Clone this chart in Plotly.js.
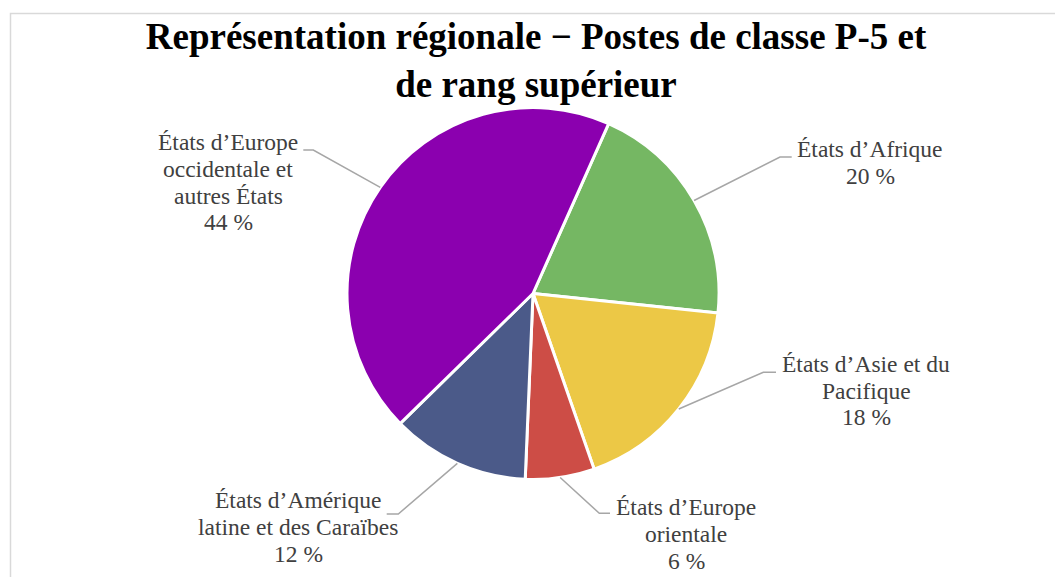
<!DOCTYPE html>
<html>
<head>
<meta charset="utf-8">
<script src="https://cdn.plot.ly/plotly-3.0.1.min.js"></script>
<style>
  html, body { margin: 0; padding: 0; background: #ffffff; }
  #chart { width: 1055px; height: 577px; }
</style>
</head>
<body>
<div id="chart"></div>
<script>
// ---- data ----
const titleText = "Représentation régionale − Postes de classe P-5 et<br>de rang supérieur";
const categories = [
  "États d’Afrique",
  "États d’Asie et du<br>Pacifique",
  "États d’Europe<br>orientale",
  "États d’Amérique<br>latine et des Caraïbes",
  "États d’Europe<br>occidentale et<br>autres États"
];
const values = [20, 18, 6, 12, 44];
const sliceColors = ["#75B763", "#ECC846", "#CD4D46", "#4B5A89", "#8B00AF"];

// ---- layout constants ----
const W = 1055, H = 577;
const cx = 533, cy = 293.5, R = 186;
const rotation = 24;
const fontFamily = "Liberation Serif, Times New Roman, serif";
const labelSize = 23.5, lineGap = 26.8;
const px = x => x / W;
const py = y => 1 - y / H;

// label placement (pixel positions of text and leader elbows)
const labelPlace = [
  { tx: 870, ty: 157,   ex: 780,   ey: 157,   hx: 791.7 },
  { tx: 866, ty: 371.7, ex: 763.3, ey: 372.3, hx: 776 },
  { tx: 686, ty: 515,   ex: 599.3, ey: 513.3, hx: 610 },
  { tx: 298, ty: 508.3, ex: 398.3, ey: 514,   hx: 386.7 },
  { tx: 228, ty: 150,   ex: 313.3, ey: 150,   hx: 303.3 }
];

const total = values.reduce((a, b) => a + b, 0);
const annotations = [];
const shapes = [];
let cum = 0;
values.forEach((v, i) => {
  const mid = (rotation + 360 * (cum + v / 2) / total) * Math.PI / 180;
  cum += v;
  const sx = cx + R * Math.sin(mid), sy = cy - R * Math.cos(mid);
  const p = labelPlace[i];
  shapes.push({
    type: "path", xref: "paper", yref: "paper",
    path: `M ${px(sx)} ${py(sy)} L ${px(p.ex)} ${py(p.ey)} L ${px(p.hx)} ${py(p.ey)}`,
    line: { color: "#A6A6A6", width: 1.5 }
  });
  const pct = Math.round(100 * v / total) + "\u00a0%";
  const lines = (categories[i] + "<br>" + pct).split("<br>");
  lines.forEach((ln, k) => {
    const base = p.ty + k * lineGap;
    annotations.push({
      xref: "paper", yref: "paper",
      x: px(p.tx), y: py(base - 0.3375 * labelSize),
      xanchor: "center", yanchor: "middle",
      text: ln, showarrow: false,
      font: { family: fontFamily, size: labelSize, color: "#404040" }
    });
  });
});

// outer chart border
shapes.push({
  type: "rect", xref: "paper", yref: "paper",
  x0: px(10.5), x1: 1.02, y0: -0.02, y1: py(13.5),
  line: { color: "#D9D9D9", width: 1.5 }, fillcolor: "rgba(0,0,0,0)"
});

const trace = {
  type: "pie",
  labels: categories,
  values: values,
  sort: false,
  direction: "clockwise",
  rotation: rotation,
  marker: { colors: sliceColors, line: { color: "#FFFFFF", width: 3 } },
  textinfo: "none",
  hoverinfo: "label+percent",
  showlegend: false,
  domain: { x: [px(cx - R), px(cx + R)], y: [py(cy + R), py(cy - R)] }
};

const layout = {
  width: W, height: H,
  margin: { l: 0, r: 0, t: 0, b: 0 },
  paper_bgcolor: "#FFFFFF",
  showlegend: false,
  title: {
    text: titleText,
    font: { family: fontFamily, size: 37, color: "#000000", weight: "bold" },
    x: px(536), xanchor: "center", xref: "paper",
    y: py(49), yanchor: "top", yref: "container"
  },
  annotations: annotations,
  shapes: shapes
};

Plotly.newPlot("chart", [trace], layout, { displayModeBar: false, staticPlot: true });
</script>
</body>
</html>
